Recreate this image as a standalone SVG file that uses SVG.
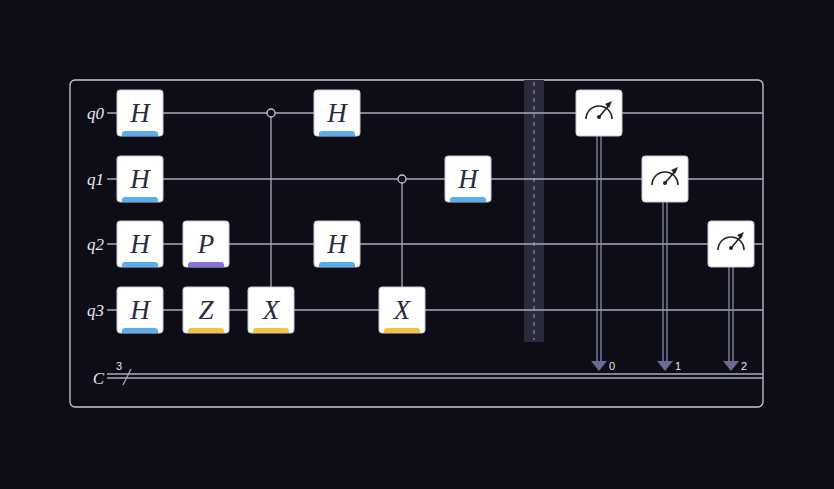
<svg xmlns="http://www.w3.org/2000/svg" width="834" height="489" viewBox="0 0 834 489">
<style>
.w{stroke:#a9a9bd;stroke-width:1.3;fill:none}
.g{fill:#fff;stroke:#c8c8d4;stroke-width:1}
.t{font-family:"Liberation Serif","DejaVu Serif",serif;font-style:italic;font-size:27px;fill:#2a2a40;text-anchor:middle}
.l{font-family:"Liberation Serif","DejaVu Serif",serif;font-style:italic;font-size:17px;fill:#e8e8f0;text-anchor:end}
.n{font-family:"Liberation Sans",sans-serif;font-size:11px;fill:#e8e8f0}
.cl{stroke:#8a8aa8;stroke-width:1.3;fill:none}
</style>
<defs>
<g id="gate"><rect class="g" x="-23" y="-23" width="46" height="46" rx="3"/></g>
<g id="meter"><rect class="g" x="-23" y="-23" width="46" height="46" rx="3"/><path d="M-13,6 A13,13 0 0 1 13,6" stroke="#222" stroke-width="1.6" fill="none"/><line x1="0" y1="4" x2="11" y2="-9" stroke="#222" stroke-width="1.6"/><path d="M13,-12 L6,-9 L10,-5 Z" fill="#222"/><circle cx="0" cy="4" r="2" fill="#222"/></g>
</defs>
<rect width="834" height="489" fill="#0d0d18"/>
<rect x="70" y="80" width="693" height="327" rx="5" fill="#0d0d18" stroke="#c8c8d4" stroke-width="1.3"/>
<g id="barrier"><rect x="524" y="80" width="20" height="262" fill="#2a2a3a"/><line x1="534" y1="82" x2="534" y2="340" stroke="#8a8aa8" stroke-width="1.2" stroke-dasharray="4,4"/></g>
<g id="connectors">
<line class="w" x1="107" y1="113" x2="763" y2="113"/>
<line class="w" x1="107" y1="179" x2="763" y2="179"/>
<line class="w" x1="107" y1="244" x2="763" y2="244"/>
<line class="w" x1="107" y1="310" x2="763" y2="310"/>
<line class="w" x1="107" y1="374" x2="763" y2="374"/>
<line class="w" x1="107" y1="378" x2="763" y2="378"/>
<line class="w" x1="123" y1="385" x2="131" y2="369"/>
<line class="w" x1="271" y1="117" x2="271" y2="287"/>
<circle cx="271" cy="113" r="4" fill="#0d0d18" stroke="#c8c8d4" stroke-width="1.3"/>
<line class="w" x1="402" y1="183" x2="402" y2="287"/>
<circle cx="402" cy="179" r="4" fill="#0d0d18" stroke="#c8c8d4" stroke-width="1.3"/>
<g class="cl"><line x1="597" y1="136" x2="597" y2="362"/><line x1="601" y1="136" x2="601" y2="362"/>
<line x1="663" y1="202" x2="663" y2="362"/><line x1="667" y1="202" x2="667" y2="362"/>
<line x1="729" y1="267" x2="729" y2="362"/><line x1="733" y1="267" x2="733" y2="362"/></g>
<g fill="#6b6b92"><path d="M591,361 L607,361 L599,371 Z"/><path d="M657,361 L673,361 L665,371 Z"/><path d="M723,361 L739,361 L731,371 Z"/></g>
</g>
<g id="labels">
<text class="l" x="104" y="119">q0</text><text class="l" x="104" y="185">q1</text><text class="l" x="104" y="250">q2</text><text class="l" x="104" y="316">q3</text>
<text class="l" x="104" y="384">C</text>
<text class="n" x="116" y="370">3</text>
<text class="n" x="609" y="370">0</text><text class="n" x="675" y="370">1</text><text class="n" x="741" y="370">2</text>
</g>
<defs>
<path id="bar" d="M-18,23 L-18,21 Q-18,18 -15,18 L15,18 Q18,18 18,21 L18,23 Z"/>
</defs>
<g id="h0" transform="translate(140,113)"><use href="#gate"/><use href="#bar" fill="#5aaee8"/><text class="t" y="9">H</text></g>
<g id="h1" transform="translate(140,179)"><use href="#gate"/><use href="#bar" fill="#5aaee8"/><text class="t" y="9">H</text></g>
<g id="h2" transform="translate(140,244)"><use href="#gate"/><use href="#bar" fill="#5aaee8"/><text class="t" y="9">H</text></g>
<g id="h3" transform="translate(140,310)"><use href="#gate"/><use href="#bar" fill="#5aaee8"/><text class="t" y="9">H</text></g>
<g id="p2" transform="translate(206,244)"><use href="#gate"/><use href="#bar" fill="#8a6fe0"/><text class="t" y="9">P</text></g>
<g id="z3" transform="translate(206,310)"><use href="#gate"/><use href="#bar" fill="#f0c542"/><text class="t" y="9">Z</text></g>
<g id="x3a" transform="translate(271,310)"><use href="#gate"/><use href="#bar" fill="#f0c542"/><text class="t" y="9">X</text></g>
<g id="h0b" transform="translate(337,113)"><use href="#gate"/><use href="#bar" fill="#5aaee8"/><text class="t" y="9">H</text></g>
<g id="h2b" transform="translate(337,244)"><use href="#gate"/><use href="#bar" fill="#5aaee8"/><text class="t" y="9">H</text></g>
<g id="x3b" transform="translate(402,310)"><use href="#gate"/><use href="#bar" fill="#f0c542"/><text class="t" y="9">X</text></g>
<g id="h1b" transform="translate(468,179)"><use href="#gate"/><use href="#bar" fill="#5aaee8"/><text class="t" y="9">H</text></g>
<g id="m0" transform="translate(599,113)"><use href="#meter"/></g>
<g id="m1" transform="translate(665,179)"><use href="#meter"/></g>
<g id="m2" transform="translate(731,244)"><use href="#meter"/></g>
</svg>
